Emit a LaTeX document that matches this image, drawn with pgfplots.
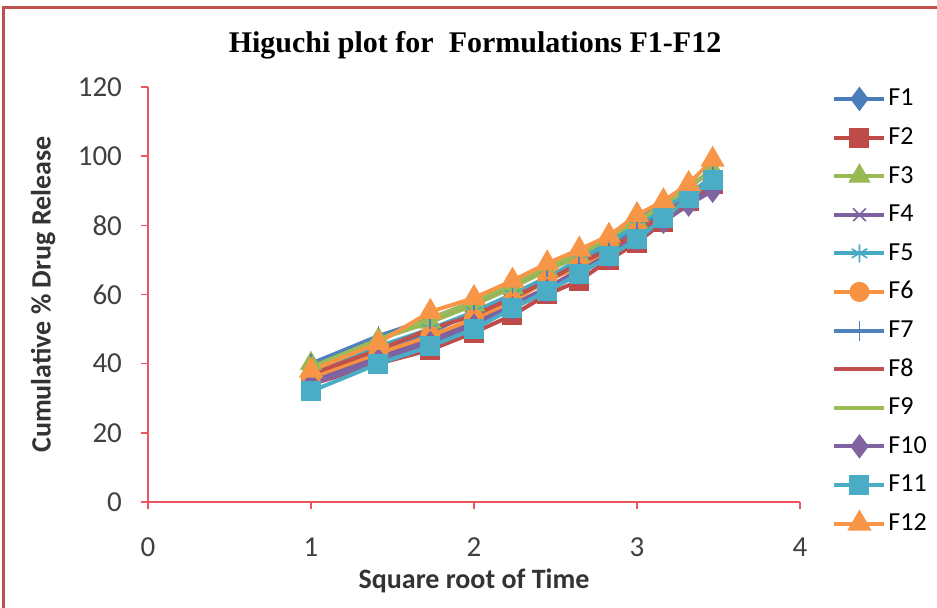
\documentclass[border=0pt]{standalone}
\usepackage{pgfplots}
\pgfplotsset{compat=1.18}
\usepackage{fontspec}
\setmainfont{Carlito}
\newfontfamily\titlefont{Liberation Serif}

\definecolor{cF1}{HTML}{4A7EBB}
\definecolor{cF2}{HTML}{BE4B48}
\definecolor{cF3}{HTML}{98B954}
\definecolor{cF4}{HTML}{7D60A0}
\definecolor{cF5}{HTML}{46AAC5}
\definecolor{cF6}{HTML}{F69240}
\definecolor{cF7}{HTML}{4F81BD}
\definecolor{cF8}{HTML}{C0504D}
\definecolor{cF9}{HTML}{9BBB59}
\definecolor{cF10}{HTML}{8064A2}
\definecolor{cF11}{HTML}{4BACC6}
\definecolor{cF12}{HTML}{F79646}
\definecolor{axred}{HTML}{EC5560}
\definecolor{frame}{HTML}{C0504D}

% square root of time (h^0.5) and cumulative % release of F1-F12
\pgfplotstableread{
x      F1 F2 F3 F4 F5 F6 F7 F8 F9 F10 F11 F12
1.000  36 34 40 35 37 36 40 37 39 34  32  38
1.414  44 40 47 42 45 43 48 44 47 41  40  46
1.732  49 44 52 47 50 48 53 50 53 46  45  55
2.000  55 49 57 52 55 53 58 54 58 51  50  59
2.236  60 54 62 57 60 58 63 59 63 56  56  64
2.449  65 60 67 62 65 64 68 64 68 61  61  69
2.646  69 64 71 67 70 68 72 69 72 66  66  73
2.828  74 70 76 72 75 73 77 73 77 71  71  77
3.000  79 75 81 77 80 78 82 78 81 76  76  83
3.162  84 81 86 82 85 83 86 83 86 81  82  87
3.317  89 87 91 86 89 88 91 88 91 86  88  92
3.464  94 92 96 91 94 93 96 93 96 90  93  99
}\datatable

\begin{document}
\begin{tikzpicture}
\path[use as bounding box] (0,0) rectangle (468.5pt,304pt);
\draw[frame, line width=1.5pt] (1.5pt,0) -- (1.5pt,300pt) -- (468.5pt,300pt);
\node[font=\titlefont\bfseries\fontsize{15}{18}\selectfont] at (237.5pt,281.5pt) {Higuchi plot for\ \ Formulations F1-F12};
\begin{axis}[
  at={(74pt,53pt)}, anchor=origin,
  scale only axis, width=326pt, height=207.5pt,
  xmin=0, xmax=4, ymin=0, ymax=120,
  xtick={0,1,2,3,4}, ytick={0,20,...,120},
  axis x line*=bottom, axis y line*=left,
  axis line style={axred, line width=0.8pt, -},
  every tick/.style={axred, line width=0.8pt},
  tick align=outside, major tick length=3.5pt,
  /pgf/number format/assume math mode=true,
  tick label style={font=\fontsize{14.5}{16}\selectfont, text=black!75},
  xticklabel style={yshift=-11pt},
  yticklabel style={xshift=-6pt},
  xlabel={Square root of Time},
  ylabel={Cumulative \% Drug Release},
  label style={font=\bfseries\fontsize{14}{16}\selectfont, text=black!80},
  xlabel style={at={(axis description cs:0.5,-0.19)}, anchor=center},
  ylabel style={at={(axis description cs:-0.161,0.5)}, anchor=center, rotate=0},
  legend cell align=left,
  legend style={at={(1.04,1.018)}, anchor=north west, draw=none, fill=none,
    font=\fontsize{13}{15}\selectfont, row sep=4.3pt,
    nodes={inner sep=1pt, text height=10pt, text depth=3pt}},
  legend image code/.code={\draw[mark repeat=2,mark phase=2] plot coordinates {(0pt,0pt)(12.5pt,0pt)(25pt,0pt)};},
  every axis plot/.append style={line width=2pt},
  mark size=4pt,
]
\addplot[cF1, mark=diamond*, mark size=4.5pt] table[y=F1] {\datatable};
\addplot[cF2, mark=square*] table[y=F2] {\datatable};
\addplot[cF3, mark=triangle*, mark size=4.5pt] table[y=F3] {\datatable};
\addplot[cF4, mark=x, mark size=4.5pt, mark options={line width=0.8pt}] table[y=F4] {\datatable};
\addplot[cF5, mark=asterisk, mark size=4.5pt, mark options={line width=0.8pt}] table[y=F5] {\datatable};
\addplot[cF6, mark=*] table[y=F6] {\datatable};
\addplot[cF7, mark=|, mark size=5pt, mark options={line width=0.9pt}] table[y=F7] {\datatable};
\addplot[cF8, no marks] table[y=F8] {\datatable};
\addplot[cF9, no marks] table[y=F9] {\datatable};
\addplot[cF10, mark=diamond*, mark size=4.5pt] table[y=F10] {\datatable};
\addplot[cF11, mark=square*] table[y=F11] {\datatable};
\addplot[cF12, mark=triangle*, mark size=5pt] table[y=F12] {\datatable};
\legend{F1,F2,F3,F4,F5,F6,F7,F8,F9,F10,F11,F12}
\end{axis}
\end{tikzpicture}
\end{document}
